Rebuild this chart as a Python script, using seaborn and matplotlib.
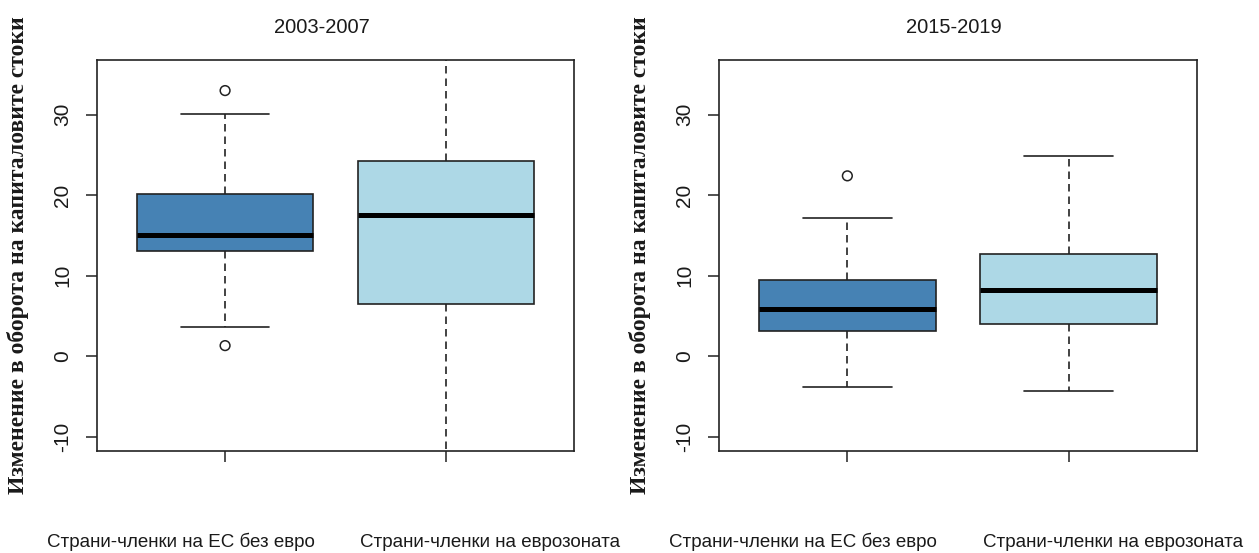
import numpy as np
import pandas as pd
import matplotlib
matplotlib.use("Agg")
import matplotlib.pyplot as plt
import matplotlib.transforms as mtransforms
import seaborn as sns

# Periods and country groups
periods = ["2003-2007", "2015-2019"]
groups = ["Страни-членки на ЕС без евро", "Страни-членки на еврозоната"]

# Five-number summaries per box: lower whisker, Q1, median, Q3, upper whisker
noneuro_2003_2007 = [3.65, 13.0, 15.0, 20.2, 30.1]
euro_2003_2007 = [-14.0, 6.5, 17.55, 24.2, 39.5]
noneuro_2015_2019 = [-3.9, 3.15, 5.85, 9.5, 17.2]
euro_2015_2019 = [-4.35, 4.0, 8.2, 12.65, 24.85]

# Outlying observations
outliers_noneuro_2003_2007 = [33.0, 1.3]
outliers_euro_2003_2007 = []
outliers_noneuro_2015_2019 = [22.4]
outliers_euro_2015_2019 = []

box_colors = ["#4682B4", "#ADD8E6"]
y_ticks = [-10, 0, 10, 20, 30]
y_label = "Изменение в оборота на капиталовите стоки"

box_parts = {
    "2003-2007": [noneuro_2003_2007, euro_2003_2007],
    "2015-2019": [noneuro_2015_2019, euro_2015_2019],
}
outlier_parts = {
    "2003-2007": [outliers_noneuro_2003_2007, outliers_euro_2003_2007],
    "2015-2019": [outliers_noneuro_2015_2019, outliers_euro_2015_2019],
}


def long_frame(parts):
    rows = []
    for period, per_group in parts.items():
        for g, vals in zip(groups, per_group):
            for v in vals:
                rows.append((period, g, v))
    return pd.DataFrame(rows, columns=["period", "group", "value"])


box_df = long_frame(box_parts)
outlier_df = long_frame(outlier_parts)

sns.set_style("white")
plt.rcParams["font.family"] = ["Liberation Sans", "DejaVu Sans"]
plt.rcParams["axes.unicode_minus"] = False

W, H = 1259, 553
fig = plt.figure(figsize=(W / 100, H / 100), dpi=100)
rects = [
    [97 / W, 102 / H, 477 / W, 391 / H],
    [719 / W, 102 / H, 478 / W, 391 / H],
]
title_x = [0.472, 0.492]
edge = "#222222"
text_color = "#1a1a1a"

for period, rect, tx in zip(periods, rects, title_x):
    ax = fig.add_axes(rect)
    sub = box_df[box_df["period"] == period]
    sns.boxplot(
        data=sub, x="group", y="value", hue="group",
        order=groups, hue_order=groups, palette=box_colors,
        saturation=1, width=0.8, whis=(0, 100), showfliers=False,
        linecolor=edge, linewidth=1.2, legend=False,
        whiskerprops=dict(linestyle=(0, (4.5, 3))),
        medianprops=dict(linewidth=3.6, color="black", solid_capstyle="butt"),
        ax=ax,
    )
    n_before = len(ax.collections)
    out = outlier_df[outlier_df["period"] == period]
    if len(out):
        sns.stripplot(
            data=out, x="group", y="value", order=groups,
            jitter=False, size=7, color="black", ax=ax,
        )
        for coll in ax.collections[n_before:]:
            coll.set_facecolor("none")
            coll.set_edgecolor(edge)
            coll.set_linewidth(1.1)

    ax.set_xlim(-0.58, 1.58)
    ax.set_ylim(-11.8, 36.8)
    ax.set_yticks(y_ticks)
    ax.set_xticks([0, 1])
    ax.set_xticklabels(["", ""])
    ax.set_xlabel("")
    ax.set_ylabel(y_label, family=["Liberation Serif", "DejaVu Serif"],
                  fontsize=17, fontweight="bold", color=text_color)
    ax.yaxis.set_label_coords(-0.143, 0.5)

    ax.tick_params(axis="both", direction="out", length=8, width=1.1,
                   color=edge, labelsize=15, labelcolor=text_color,
                   left=True, bottom=True)
    ax.tick_params(axis="y", labelrotation=90, pad=10)
    for lab in ax.get_yticklabels():
        lab.set_va("center")

    for s in ax.spines.values():
        s.set_visible(True)
        s.set_color(edge)
        s.set_linewidth(1.2)

    ax.set_title(period, fontsize=14.5, pad=19.4, x=tx, color=text_color)

    trans = mtransforms.blended_transform_factory(ax.transData, ax.transAxes)
    shifts = [-0.2, 0.2]
    for i, (g, sh) in enumerate(zip(groups, shifts)):
        ax.text(i + sh, -0.2455, g, transform=trans, ha="center",
                va="baseline", fontsize=13.5, color=text_color)

fig.savefig("out.png", dpi=100)
